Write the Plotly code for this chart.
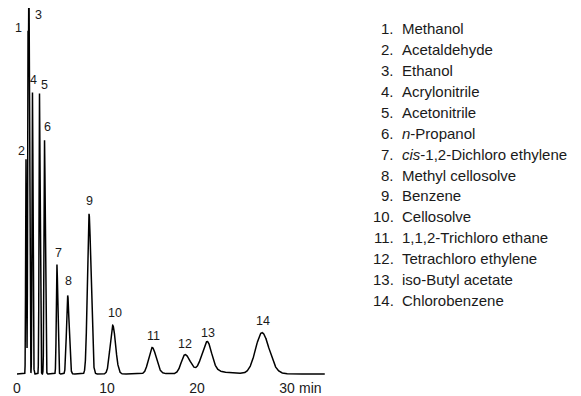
import numpy as np
import plotly.graph_objects as go

# ---- data ----
peak_ids = ["1", "2", "3", "4", "5", "6", "7", "8", "9", "10", "11", "12", "13", "14"]
compounds = [
    "Methanol", "Acetaldehyde", "Ethanol", "Acrylonitrile", "Acetonitrile",
    "<i>n</i>-Propanol", "<i>cis</i>-1,2-Dichloro ethylene", "Methyl cellosolve",
    "Benzene", "Cellosolve", "1,1,2-Trichloro ethane", "Tetrachloro ethylene",
    "iso-Butyl acetate", "Chlorobenzene",
]
retention_min = [1.22, 1.00, 1.33, 1.72, 2.50, 3.06, 4.44, 5.63, 8.00, 10.63, 15.00, 18.67, 21.09, 27.20]
peak_height = [335, 216, 367, 283, 282, 235, 110, 79, 161, 49, 26, 19, 29, 40]
sigma_left = [0.04, 0.04, 0.04, 0.05, 0.05, 0.06, 0.07, 0.13, 0.18, 0.28, 0.38, 0.42, 0.60, 0.70]
sigma_right = [0.05, 0.05, 0.06, 0.06, 0.07, 0.08, 0.09, 0.16, 0.22, 0.32, 0.45, 0.60, 0.50, 0.80]
tail_fraction = [0, 0, 0, 0, 0, 0, 0, 0, 0, 0, 0.06, 0.05, 0.25, 0.08]
tail_tau = [1, 1, 1, 1, 1, 1, 1, 1, 1, 1, 1.0, 1.0, 1.5, 1.0]
run_start, run_end = 0.0, 34.2
x_ticks = [0, 10, 20, 30]
x_tick_labels = ["0", "10", "20", "30"]

# label offsets (px) relative to each peak apex (positive dy = up)
label_dx = [-9, -5, 10, 1, 5, 3, 2, 1, 0, 2, 1, 0, 1, 1]
label_dy = [13, 8, -6, 13, 9, 13, 12, 14, 13, 12, 12, 11, 12, 13]

# ---- build the trace from the peak table ----
t = np.arange(run_start, run_end, 0.002)
signal = np.zeros_like(t)
for tr, h, sl, sr, tf, tau in zip(retention_min, peak_height, sigma_left, sigma_right, tail_fraction, tail_tau):
    s = np.where(t < tr, sl, sr)
    signal += h * np.exp(-0.5 * ((t - tr) / s) ** 2)
    if tf > 0:
        step = 1.0 / (1.0 + np.exp(-(t - tr) / (0.5 * sr)))
        signal += h * tf * np.exp(-np.clip(t - tr, 0, None) / tau) * step

fig = go.Figure()
fig.add_trace(go.Scatter(x=t, y=signal, mode="lines",
                         line=dict(color="black", width=1.5), hoverinfo="skip"))

# page body has an 8px margin, so the figure is sized to fit the window exactly
W, H = 573, 388
px_per_min = 9.0
x0_px = 9
xmin = -x0_px / px_per_min
xmax = xmin + W / px_per_min
plot_h = 372

for pid, tr, h, dx, dy in zip(peak_ids, retention_min, peak_height, label_dx, label_dy):
    fig.add_annotation(x=tr, y=h, text=pid, showarrow=False, xanchor="center", yanchor="middle",
                       xshift=dx, yshift=dy, font=dict(size=12.5, color="#1a1a1a"))

fig.add_annotation(x=30, y=0, xref="x", yref="paper", text="min", showarrow=False,
                   xanchor="left", yanchor="top", xshift=10, yshift=0,
                   font=dict(size=14, color="#1a1a1a"))

row0, row_step = 21, 21
for i, (pid, name) in enumerate(zip(peak_ids, compounds)):
    ypx = row0 + i * row_step
    yp = (plot_h - ypx) / plot_h
    fig.add_annotation(x=387.5 / W, y=yp, xref="paper", yref="paper", text=pid + ".",
                       showarrow=False, xanchor="right", yanchor="middle",
                       font=dict(size=15, color="#1a1a1a"))
    fig.add_annotation(x=391.5 / W, y=yp, xref="paper", yref="paper", text=name,
                       showarrow=False, xanchor="left", yanchor="middle",
                       font=dict(size=15, color="#1a1a1a"))

fig.update_layout(
    width=W, height=H,
    margin=dict(l=0, r=0, t=0, b=H - plot_h),
    paper_bgcolor="white", plot_bgcolor="white",
    showlegend=False,
    font=dict(family="Liberation Sans, Arial, sans-serif", color="#1a1a1a"),
    xaxis=dict(range=[xmin, xmax], tickvals=x_ticks, ticktext=x_tick_labels,
               showgrid=False, zeroline=False, showline=False, ticks="",
               tickfont=dict(size=14, color="#1a1a1a")),
    yaxis=dict(range=[-4, plot_h - 4], visible=False, showgrid=False, zeroline=False),
)

fig.write_html("out.html")
